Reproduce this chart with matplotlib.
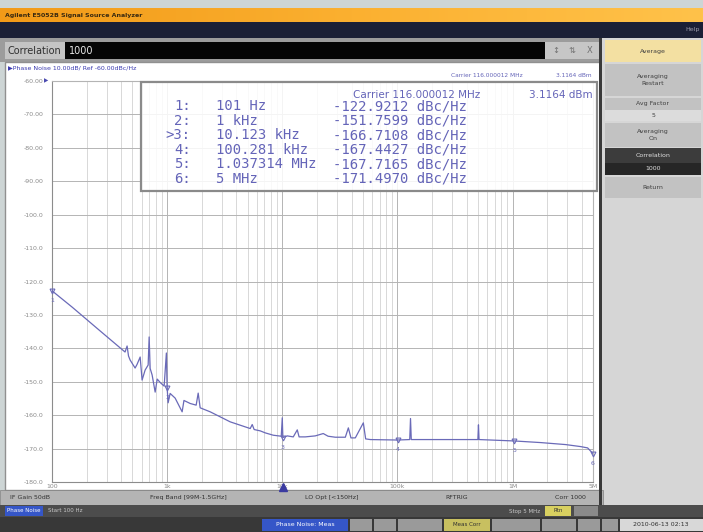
import matplotlib
matplotlib.use('Agg')
import matplotlib.pyplot as plt
from matplotlib.patches import Rectangle
from matplotlib.ticker import FixedLocator, LogLocator, NullFormatter
import numpy as np

# phase noise trace (offset frequency in Hz, level in dBc/Hz)
freq_hz = [100, 101, 150, 262, 431, 449, 462, 477, 527, 548, 583, 606, 644,
           684, 698, 712, 741, 787, 820, 869, 942, 985, 1000, 1020, 1062,
           1174, 1350, 1400, 1585, 1787, 1861, 1936, 2366, 2890, 3530, 4313,
           5270, 5483, 5700, 6437, 7117, 8350, 9800, 10000, 10123, 11050,
           12460, 13500, 14000, 15850, 19360, 22700, 25000, 28900, 35300,
           37500, 39500, 43100, 50600, 53000, 58200, 100281, 128000, 130000,
           132000, 237000, 500000, 506000, 512000, 1037314, 1750000, 2890000,
           3900000, 4490000, 5000000]
level_dbc = [-122.5, -122.9, -127.7, -134.8, -141.1, -139.3, -142.3, -143.5,
             -145.9, -144.8, -142.6, -149.5, -146.5, -145.0, -136.6, -146.0,
             -148.0, -153.1, -149.2, -150.2, -151.3, -141.4, -151.76, -156.3,
             -153.5, -154.9, -159.0, -155.6, -156.5, -157.0, -153.4, -157.8,
             -159.0, -160.5, -162.0, -163.0, -164.0, -162.8, -164.3, -164.7,
             -165.3, -166.0, -166.3, -160.8, -166.71, -166.2, -166.5, -164.4,
             -166.5, -166.5, -166.2, -165.5, -166.3, -166.6, -166.6, -163.8,
             -166.8, -166.8, -162.3, -167.1, -167.3, -167.44, -167.3, -161.0,
             -167.3, -167.3, -167.3, -162.9, -167.3, -167.72, -168.2, -168.8,
             -169.4, -169.8, -171.5]

# markers
marker_ids = ['1', '2', '3', '4', '5', '6']
marker_freq = [101, 1000, 10123, 100281, 1037314, 5000000]
marker_level = [-122.9212, -151.7599, -166.7108, -167.4427, -167.7165, -171.4970]
marker_freq_text = ['101 Hz', '1 kHz', '10.123 kHz', '100.281 kHz',
                    '1.037314 MHz', '5 MHz']
active_marker = 2

y_ticks = list(range(-60, -181, -10))
x_ticks = [100, 1e3, 1e4, 1e5, 1e6, 5e6]
x_tick_labels = ['100', '1k', '10k', '100k', '1M', '5M']

carrier_text = 'Carrier 116.000012 MHz'
power_text = '3.1164 dBm'
scale_text = '\u25b6Phase Noise 10.00dB/ Ref -60.00dBc/Hz'

softkeys = ['Average', 'Averaging\nRestart', 'Avg Factor', '5',
            'Averaging\nOn', 'Correlation', '1000', 'Return']

trace_col = '#6a6ab8'
text_blue = '#6464b8'

W, H = 703, 532
fig = plt.figure(figsize=(W / 100, H / 100), dpi=100)

# ---- instrument frame (pixel coordinates) ----
ui = fig.add_axes([0, 0, 1, 1])
ui.axis('off')


def box(a, x, y, w, h, fc, ec='none', lw=0, z=1, alpha=1.0):
    a.add_patch(Rectangle((x, y), w, h, facecolor=fc, edgecolor=ec, lw=lw,
                          zorder=z, alpha=alpha))


box(ui, 0, 0, W, H, '#cdd5d5')
grad = np.linspace(0, 1, 256).reshape(1, -1)
ui.imshow(grad, cmap=matplotlib.colors.LinearSegmentedColormap.from_list(
    'org', ['#f29a18', '#fbb030', '#ffc24a']), extent=(0, W, 22, 8),
    aspect='auto', zorder=2)
ui.text(5, 15, 'Agilent E5052B Signal Source Analyzer', fontsize=4.5,
        weight='bold', color='#3a2a10', va='center', zorder=3)
box(ui, 0, 22, W, 16, '#1b2036', z=2)
ui.text(700, 30, 'Help', fontsize=4.5, color='#9a9aaa', ha='right',
        va='center', zorder=3)
box(ui, 0, 38, 603, 24, '#9c9c9c', z=2)
box(ui, 5, 42, 60, 17, '#c4c4c4', z=3)
ui.text(8, 50.5, 'Correlation', fontsize=7, color='#303030', va='center',
        zorder=4)
box(ui, 65, 42, 480, 17, '#050505', z=3)
ui.text(69, 50.5, '1000', fontsize=7, color='#e8e8e8', va='center', zorder=4)
box(ui, 545, 42, 55, 17, '#c6c6c6', z=3)
for xi, s in zip([556, 572, 590], ['\u2195', '\u21c5', 'X']):
    ui.text(xi, 50.5, s, fontsize=6, color='#707070', ha='center',
            va='center', zorder=4)

# main panel
box(ui, 5, 62, 595, 428, 'white', ec='#909090', lw=1, z=2)
box(ui, 599, 38, 3, 468, '#3a3a3a', z=3)

# softkey panel
box(ui, 602, 38, 101, 468, '#d6d6d6', z=2)
key_rows = [(40, 22, '#f3e0a2', '#404040'), (64, 32, '#c2c2c2', '#404040'),
            (98, 12, '#c2c2c2', '#404040'), (110, 11, '#dcdcdc', '#404040'),
            (123, 24, '#c2c2c2', '#404040'), (148, 15, '#3c3c3c', '#e0e0e0'),
            (163, 12, '#262626', '#e0e0e0'), (177, 21, '#c2c2c2', '#404040')]
for (ky, kh, fc, tc), label in zip(key_rows, softkeys):
    box(ui, 605, ky, 96, kh, fc, z=3)
    ui.text(653, ky + kh / 2, label, fontsize=4.5, color=tc, ha='center',
            va='center', linespacing=1.3, zorder=4)

# status bars
box(ui, 0, 490, 603, 15, '#b4b4b4', ec='#808080', lw=0.5, z=2)
for xi, s in zip([10, 150, 305, 445, 555],
                 ['IF Gain 50dB', 'Freq Band [99M-1.5GHz]', 'LO Opt [<150Hz]',
                  'RFTRIG', 'Corr 1000']):
    ui.text(xi, 497.5, s, fontsize=4.5, color='#303030', va='center',
            zorder=4)
box(ui, 0, 505, W, 12, '#4c4c4c', z=3)
box(ui, 5, 506, 38, 10, '#3556c8', z=4)
ui.text(24, 511, 'Phase Noise', fontsize=4, color='white', ha='center',
        va='center', zorder=5)
ui.text(48, 511, 'Start 100 Hz', fontsize=4, color='#c8c8c8', va='center',
        zorder=5)
ui.text(540, 511, 'Stop 5 MHz', fontsize=4, color='#c8c8c8', ha='right',
        va='center', zorder=5)
box(ui, 545, 506, 26, 10, '#d8d060', z=4)
ui.text(558, 511, 'Rtn', fontsize=4, color='#303030', ha='center',
        va='center', zorder=5)
box(ui, 574, 506, 24, 10, '#8a8a8a', z=4)
box(ui, 0, 517, W, 15, '#383838', z=3)
box(ui, 262, 519, 86, 12, '#3556c8', z=4)
ui.text(305, 525, 'Phase Noise: Meas', fontsize=4.5, color='white',
        ha='center', va='center', zorder=5)
for bx, bw, fc in [(350, 22, '#9a9a9a'), (374, 22, '#9a9a9a'),
                   (398, 44, '#9a9a9a'), (444, 46, '#c8c060'),
                   (492, 48, '#9a9a9a'), (542, 34, '#9a9a9a'),
                   (578, 22, '#9a9a9a'), (602, 16, '#9a9a9a')]:
    box(ui, bx, 519, bw, 12, fc, z=4)
ui.text(467, 525, 'Meas Corr', fontsize=4, color='#303030', ha='center',
        va='center', zorder=5)
box(ui, 620, 519, 83, 12, '#d8d8d8', z=4)
ui.text(661, 525, '2010-06-13 02:13', fontsize=4.5, color='#303030',
        ha='center', va='center', zorder=5)
ui.set_xlim(0, W)
ui.set_ylim(H, 0)

# ---- phase noise plot ----
ax = fig.add_axes([52 / W, (H - 482) / H, (593 - 52) / W, (482 - 81) / H])
ax.set_facecolor('white')
ax.set_xscale('log')
ax.set_xlim(100, 5e6)
ax.set_ylim(-180, -60)
ax.set_yticks(y_ticks)
ax.set_yticklabels([f'{v:.2f}' if abs(v) < 100 else f'{v:.1f}'
                    for v in y_ticks])
ax.xaxis.set_major_locator(FixedLocator(x_ticks))
ax.set_xticklabels(x_tick_labels)
ax.xaxis.set_minor_locator(LogLocator(base=10, subs=range(2, 10)))
ax.xaxis.set_minor_formatter(NullFormatter())
ax.tick_params(which='both', length=0, labelsize=4.5, labelcolor='#8a8a8a')
ax.tick_params(axis='y', pad=6)
ax.tick_params(axis='x', pad=1.5)
ax.grid(which='major', axis='both', color='#b4b4b4', lw=0.7)
ax.grid(which='minor', axis='x', color='#d2d2d2', lw=0.6)
for side in ['left', 'bottom']:
    ax.spines[side].set_color('#8c8c8c')
for side in ['top', 'right']:
    ax.spines[side].set_color('#b4b4b4')
ax.set_axisbelow(True)

ax.plot(freq_hz, level_dbc, color=trace_col, lw=0.9, zorder=3)
for mid, mf, ml in zip(marker_ids, marker_freq, marker_level):
    ax.plot([mf], [ml], marker='v', ms=3.5, mfc='none', mec=trace_col,
            mew=0.8, zorder=4, clip_on=False)
    ax.annotate(mid, (mf, ml), xytext=(0, -7), textcoords='offset points',
                fontsize=4.5, color=trace_col, ha='center', va='center',
                annotation_clip=False)
ax.plot([marker_freq[active_marker]], [-0.012], marker='^', ms=6,
        color='#3a3aa0', transform=ax.get_xaxis_transform(), clip_on=False,
        zorder=5)

# ---- overlay: headers and marker table ----
ov = fig.add_axes([0, 0, 1, 1])
ov.axis('off')
ov.patch.set_alpha(0)
ov.text(8, 68, scale_text, fontsize=4.5, color='#3a3ab0', va='center')
ov.text(451, 75.5, carrier_text, fontsize=4.2, color=text_blue, va='center')
ov.text(592, 75.5, power_text, fontsize=4.2, color=text_blue, ha='right',
        va='center')
ov.text(44, 81, '\u25b6', fontsize=4, color='#4a4ab0', va='center')
box(ov, 141, 82, 456, 109, 'white', z=1, alpha=0.86)
ov.add_patch(Rectangle((141, 82), 456, 109, facecolor='none',
                       edgecolor='#8a8a8a', lw=1.6, zorder=2))
ov.text(353, 95, carrier_text, fontsize=7.5, color=text_blue, va='center',
        zorder=3)
ov.text(593, 95, power_text, fontsize=7.5, color=text_blue, ha='right',
        va='center', zorder=3)
for i, (mid, ft, ml) in enumerate(zip(marker_ids, marker_freq_text,
                                      marker_level)):
    yy = 106 + i * 14.6
    idx = ('>' if i == active_marker else '') + mid + ':'
    ov.text(191, yy, idx, fontsize=10, family='DejaVu Sans Mono',
            weight='light', color=text_blue, ha='right', va='center',
            zorder=3)
    ov.text(216, yy, ft, fontsize=10, family='DejaVu Sans Mono',
            weight='light', color=text_blue, va='center', zorder=3)
    ov.text(333, yy, f'{ml:.4f} dBc/Hz', fontsize=10,
            family='DejaVu Sans Mono', weight='light', color=text_blue,
            va='center', zorder=3)
ov.set_xlim(0, W)
ov.set_ylim(H, 0)

fig.savefig('out.png', dpi=100)
